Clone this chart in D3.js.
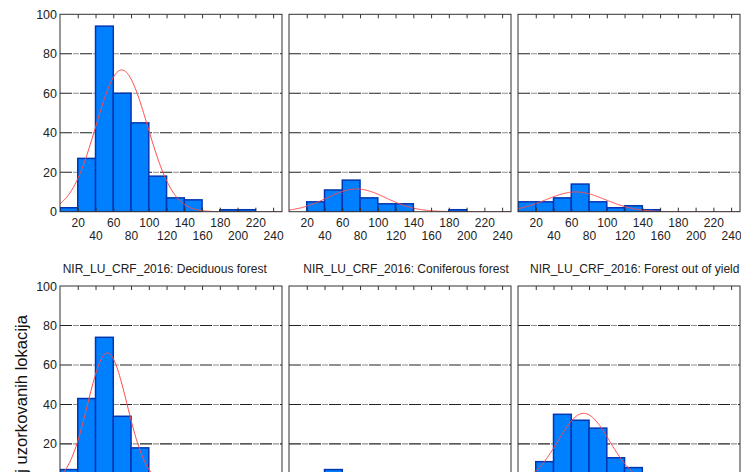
<!DOCTYPE html>
<html>
<head>
<meta charset="utf-8">
<script src="https://cdn.jsdelivr.net/npm/d3@7"></script>
<style>
  html, body { margin: 0; padding: 0; background: #fff; overflow: hidden; }
  svg { display: block; font-family: "Liberation Sans", Arial, sans-serif; }
</style>
</head>
<body>
<svg id="chart" width="741" height="472"></svg>
<script>
// ---- data ----
const binStarts = [0, 20, 40, 60, 80, 100, 120, 140, 160, 180, 200, 220];
const binWidth = 20;
const xTicks = [20, 40, 60, 80, 100, 120, 140, 160, 180, 200, 220, 240];
const yTicks = [0, 20, 40, 60, 80, 100];
const gridValues = [20, 40, 60, 80];

const topLeftCounts = [2, 27, 94, 60, 45, 18, 7, 6, 0, 1, 1, 0];
const topMidCounts = [0, 5, 11, 16, 7, 4, 4, 0, 0, 1, 0, 0];
const topRightCounts = [5, 5, 7, 14, 5, 2, 3, 1, 0, 0, 0, 0];
const deciduousCounts = [7, 43, 74, 34, 18, 5, 2, 1, 0, 0, 0, 0];
const coniferousCounts = [0, 3, 7, 4, 2, 1, 0, 0, 0, 0, 0, 0];
const outOfYieldCounts = [0, 11, 35, 32, 28, 13, 8, 2, 0, 0, 0, 0];

const panelTitles = ["", "", "",
  "NIR_LU_CRF_2016: Deciduous forest",
  "NIR_LU_CRF_2016: Coniferous forest",
  "NIR_LU_CRF_2016: Forest out of yield"];
const fitMeans = [69.5, 76, 65, 53.3, 60, 74];
const fitSds = [29, 33.3, 33.5, 22.2, 25, 29];
const yAxisLabel = "Broj uzorkovanih lokacija";

const allCounts = [topLeftCounts, topMidCounts, topRightCounts,
  deciduousCounts, coniferousCounts, outOfYieldCounts];

// ---- layout ----
const colX = [60, 289, 518];
const rowY = [14.3, 286];
const pw = 222, ph = 197.4;
const titleOffsets = [2.7, 14.3, 12];

const svg = d3.select("#chart");
const x = d3.scaleLinear().domain([0, 250]).range([0, pw]);
const y = d3.scaleLinear().domain([0, 100]).range([ph, 0]);

function normalPdf(v, m, s) {
  return Math.exp(-((v - m) ** 2) / (2 * s * s)) / (s * Math.sqrt(2 * Math.PI));
}

allCounts.forEach((counts, i) => {
  const col = i % 3, row = Math.floor(i / 3);
  const g = svg.append("g").attr("transform", `translate(${colX[col]},${rowY[row]})`);

  const clipId = "clip" + i;
  g.append("clipPath").attr("id", clipId)
    .append("rect").attr("x", 0).attr("y", 0).attr("width", pw).attr("height", ph);

  // gridlines
  g.selectAll("line.grid").data(gridValues).join("line")
    .attr("class", "grid")
    .attr("x1", 0).attr("x2", pw)
    .attr("y1", d => y(d)).attr("y2", d => y(d))
    .attr("stroke", "#222").attr("stroke-width", 1.1)
    .attr("stroke-dasharray", "12,1.5,1,1,1,1,1,1.5");

  // bars
  const bins = binStarts.map((b, k) => ({ b, v: counts[k] })).filter(d => d.v > 0);
  g.append("g").attr("clip-path", `url(#${clipId})`)
    .selectAll("rect").data(bins).join("rect")
    .attr("x", d => x(d.b))
    .attr("width", d => x(d.b + binWidth) - x(d.b))
    .attr("y", d => y(d.v))
    .attr("height", d => y(0) - y(d.v))
    .attr("fill", "#0080ff")
    .attr("stroke", "#0036b0")
    .attr("stroke-width", 1.5);

  // fitted normal curve
  const n = d3.sum(counts);
  const xs = d3.range(0, 250.5, 1);
  const line = d3.line()
    .x(v => x(v))
    .y(v => y(n * binWidth * normalPdf(v, fitMeans[i], fitSds[i])));
  g.append("path").datum(xs)
    .attr("clip-path", `url(#${clipId})`)
    .attr("d", line)
    .attr("fill", "none")
    .attr("stroke", "#ff4a4a")
    .attr("stroke-width", 1);

  // frame
  g.append("rect").attr("x", 0).attr("y", 0).attr("width", pw).attr("height", ph)
    .attr("fill", "none").attr("stroke", "#333").attr("stroke-width", 1);

  // top inward ticks
  const topAxis = d3.axisTop(x).tickValues(xTicks).tickSizeInner(-4).tickSizeOuter(0).tickFormat("");
  const ta = g.append("g").call(topAxis);
  ta.select(".domain").remove();
  ta.selectAll("line").attr("stroke", "#333");

  // bottom axis with inward ticks and two-row labels
  const bottomAxis = d3.axisBottom(x).tickValues(xTicks).tickSizeInner(-4).tickSizeOuter(0).tickPadding(0);
  const ba = g.append("g").attr("transform", `translate(0,${ph})`).call(bottomAxis);
  ba.select(".domain").remove();
  ba.selectAll("line").attr("stroke", "#333");
  ba.selectAll("text")
    .attr("dy", null)
    .attr("y", (d, k) => (k % 2 === 0 ? 15.8 : 28.8))
    .attr("font-size", 12)
    .attr("font-family", "Liberation Sans, Arial, sans-serif")
    .attr("fill", "#222");

  // left axis labels on first column
  if (col === 0) {
    const leftAxis = d3.axisLeft(y).tickValues(yTicks).tickSize(0).tickPadding(3);
    const la = g.append("g").call(leftAxis);
    la.select(".domain").remove();
    la.selectAll("text")
      .attr("font-size", 12.5)
      .attr("font-family", "Liberation Sans, Arial, sans-serif")
      .attr("fill", "#222");
  }

  // titles
  if (panelTitles[i]) {
    svg.append("text")
      .attr("x", colX[col] + titleOffsets[col])
      .attr("y", rowY[row] - 13.5)
      .attr("font-size", 12)
      .attr("fill", "#222")
      .text(panelTitles[i]);
  }
});

// y axis label
svg.append("text")
  .attr("transform", "translate(27,315) rotate(-90)")
  .attr("text-anchor", "end")
  .attr("font-size", 16.6)
  .attr("fill", "#111")
  .text(yAxisLabel);
</script>
</body>
</html>
